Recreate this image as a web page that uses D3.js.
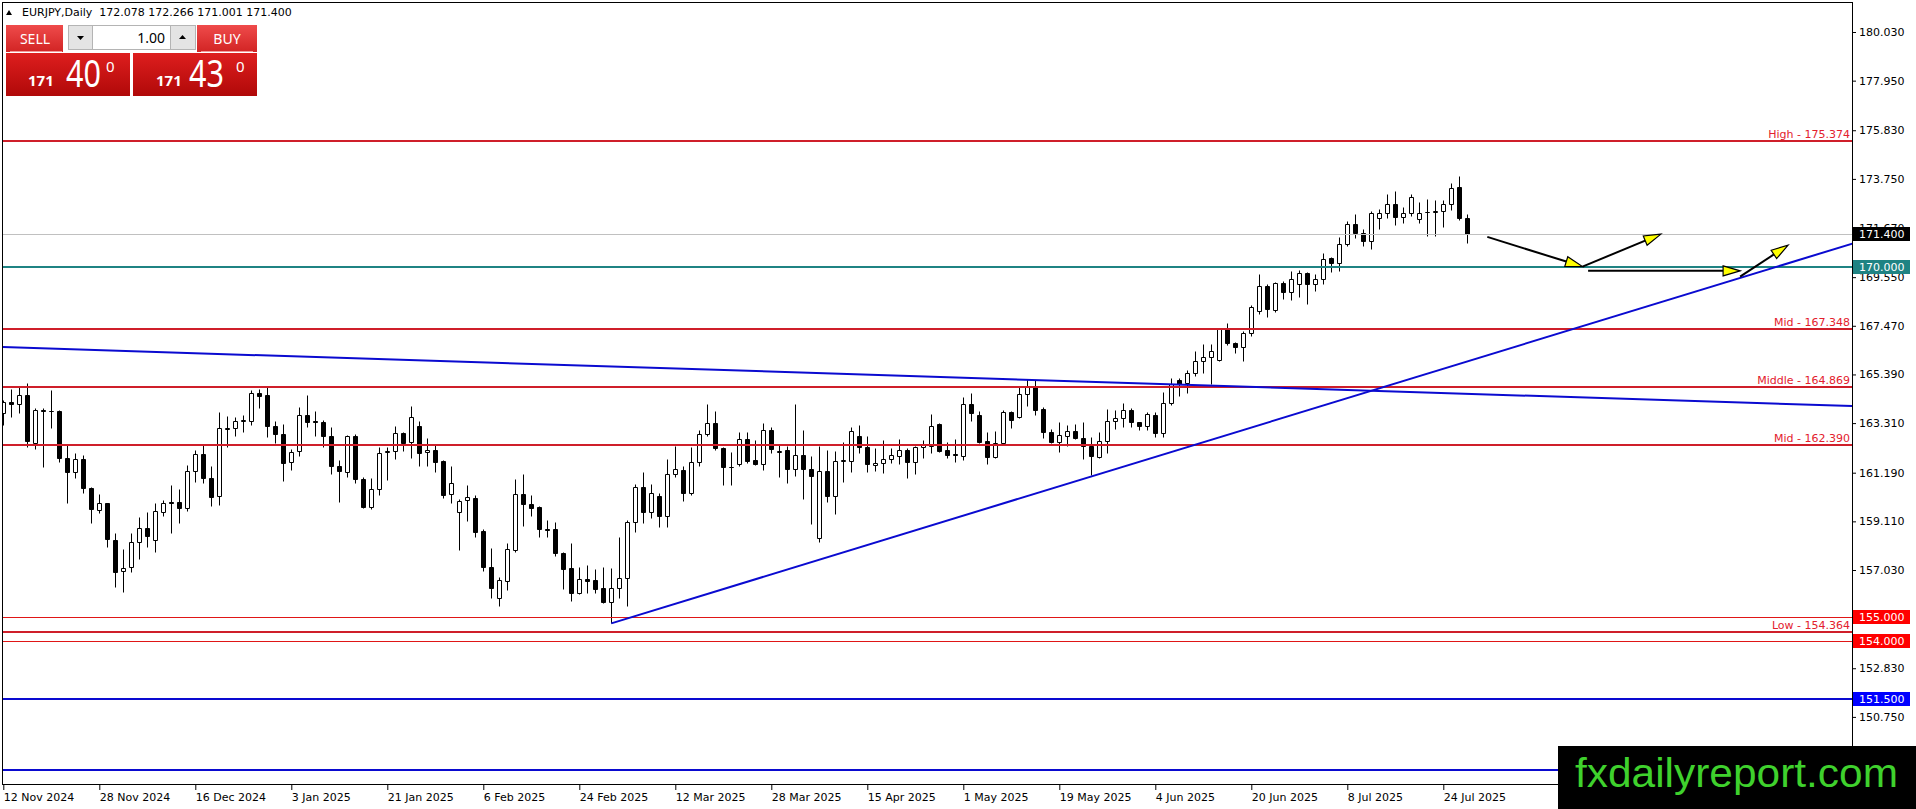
<!DOCTYPE html>
<html>
<head>
<meta charset="utf-8">
<script src="https://cdn.jsdelivr.net/npm/d3@7"></script>
<style>
  body { margin: 0; background: #fff; overflow: hidden; }
  svg { display: block; }
</style>
</head>
<body>
<svg id="chart" width="1916" height="809"></svg>
<script>
// ---- data ----
const symbolTitle = "EURJPY,Daily\u00a0\u00a0172.078 172.266 171.001 171.400";

const dateLabels = ["12 Nov 2024", "28 Nov 2024", "16 Dec 2024", "3 Jan 2025", "21 Jan 2025",
  "6 Feb 2025", "24 Feb 2025", "12 Mar 2025", "28 Mar 2025", "15 Apr 2025", "1 May 2025",
  "19 May 2025", "4 Jun 2025", "20 Jun 2025", "8 Jul 2025", "24 Jul 2025"];

const opens = [
  163.73,164.21,164.11,164.51,162.47,163.87,163.83,163.83,161.80,161.20,161.77,160.52,
  159.59,159.88,158.31,156.99,157.14,158.21,158.81,158.31,159.49,159.92,159.92,159.67,
  161.26,161.97,160.95,160.19,163.07,163.09,163.40,163.40,164.58,164.51,163.20,162.83,
  161.63,162.12,163.64,163.40,163.36,162.77,161.49,161.23,162.77,160.90,159.74,160.48,
  162.07,162.12,162.87,162.49,163.19,162.06,162.16,161.69,160.26,159.52,160.01,160.12,
  158.71,157.17,155.82,156.57,157.88,160.26,159.84,159.74,158.78,158.77,157.77,157.10,
  156.06,156.63,156.60,156.25,155.67,156.25,156.70,159.10,160.56,159.52,160.19,159.35,
  161.12,161.30,160.31,161.66,162.83,163.30,162.23,161.42,161.55,162.64,161.73,161.55,
  163.00,162.06,162.16,161.36,161.95,161.33,158.38,161.25,160.21,161.70,161.70,162.76,
  162.27,161.50,161.59,161.76,161.92,162.16,161.63,162.27,162.34,163.26,162.16,161.99,
  161.92,164.11,163.66,162.54,161.87,162.44,163.77,163.56,164.54,164.89,163.91,162.91,
  162.49,162.77,162.99,162.69,162.34,161.87,162.56,163.41,163.51,163.87,163.34,163.20,
  163.66,162.87,164.18,165.15,165.04,165.44,165.98,166.15,166.01,167.32,166.72,166.55,
  167.15,168.10,169.17,168.15,169.28,168.90,169.26,169.71,169.26,169.46,170.35,170.14,
  170.95,171.81,171.45,171.09,172.06,172.28,172.66,172.11,172.28,172.02,172.32,172.32,
  172.39,172.66,173.39,172.078];
const highs = [
  164.30,164.75,164.87,165.01,163.94,163.94,164.72,163.87,162.37,162.02,161.95,160.59,
  160.26,159.88,158.60,157.91,158.60,159.31,159.52,159.91,160.02,160.66,160.48,161.52,
  162.16,162.37,161.48,163.80,163.61,163.56,163.66,164.72,164.75,164.87,163.40,163.26,
  162.19,164.01,164.51,163.83,163.44,163.13,161.73,162.80,162.83,160.99,160.95,162.30,
  162.27,163.19,162.94,164.04,163.40,162.66,162.37,161.73,161.47,160.05,160.66,160.24,
  158.78,157.96,156.74,158.17,160.92,161.12,160.24,159.76,159.17,159.07,157.80,158.20,
  157.17,157.24,157.06,157.14,157.10,158.45,159.17,160.69,161.20,160.69,160.34,161.76,
  162.33,161.48,162.27,163.02,164.13,163.83,162.27,162.09,162.94,162.94,162.59,163.30,
  163.16,162.37,162.33,164.11,163.01,161.92,162.33,162.16,162.13,162.52,163.16,163.23,
  162.76,162.26,162.59,162.23,162.61,162.23,162.34,162.59,163.70,163.30,162.49,162.63,
  164.44,164.58,163.83,162.91,162.97,163.87,163.83,164.89,165.18,165.15,164.01,163.06,
  163.34,163.23,163.26,163.34,162.70,162.91,163.90,163.87,164.19,163.94,163.37,163.80,
  163.80,164.63,165.22,165.22,165.58,166.39,166.68,166.68,167.36,167.58,166.79,167.26,
  168.36,169.68,169.24,169.36,169.40,169.81,169.86,169.78,169.68,170.57,170.40,171.25,
  171.96,172.25,171.59,172.39,172.45,173.10,173.23,172.56,173.10,172.78,172.88,172.85,
  172.85,173.56,173.87,172.266];
const lows = [
  163.23,163.59,163.76,162.27,162.19,161.45,163.11,161.66,159.88,160.95,160.31,159.02,
  159.45,158.00,156.32,156.10,156.96,157.48,158.03,157.78,159.34,158.60,159.05,159.57,
  160.81,160.73,159.77,159.81,162.27,162.76,162.94,163.23,163.97,162.73,162.44,160.85,
  161.30,161.90,163.13,162.76,162.30,161.13,159.95,161.02,160.73,159.67,159.64,160.24,
  160.88,161.76,162.13,161.83,161.47,161.47,161.23,160.12,159.88,157.88,159.12,158.42,
  156.99,155.82,155.50,156.17,157.78,158.92,159.34,158.42,158.45,157.64,156.22,155.72,
  155.99,156.03,156.03,155.60,154.75,155.85,155.50,158.67,159.05,159.24,158.85,158.88,
  161.02,159.99,160.24,161.49,162.76,162.16,160.66,160.66,161.47,161.59,161.52,161.30,
  162.05,160.99,160.73,161.05,160.05,158.98,158.21,159.95,159.41,160.80,161.23,162.02,
  161.23,161.28,161.19,161.62,161.55,160.95,161.12,161.80,162.05,162.09,161.83,161.66,
  161.73,163.41,162.45,161.55,161.80,162.40,163.11,163.51,164.05,163.65,162.69,162.44,
  162.09,162.34,162.64,161.76,161.09,161.80,162.05,163.04,163.16,163.16,163.02,163.02,
  162.73,162.73,164.08,164.47,164.58,165.32,165.44,164.98,165.96,166.65,166.29,165.98,
  167.05,167.96,167.86,168.07,168.60,168.57,168.69,168.40,168.97,169.26,169.78,169.81,
  170.90,171.21,170.88,170.75,171.61,172.06,171.78,171.88,172.18,171.88,171.31,171.31,
  171.71,172.42,172.00,171.001];
const closes = [
  164.23,164.13,164.51,162.56,163.87,163.81,163.84,161.80,161.20,161.77,160.52,159.62,
  159.88,158.34,156.96,157.13,158.21,158.81,158.50,159.55,159.88,159.88,159.67,161.28,
  161.97,160.95,160.16,163.09,163.10,163.41,163.43,164.58,164.48,163.20,162.83,161.62,
  162.09,163.64,163.37,163.34,162.77,161.49,161.26,162.77,160.90,159.74,160.48,162.05,
  162.13,162.87,162.47,163.58,162.05,162.16,161.66,160.24,160.73,159.99,160.13,158.67,
  157.17,156.27,156.60,157.91,160.26,159.84,159.69,158.77,158.75,157.77,157.09,156.06,
  156.63,156.57,156.23,155.67,156.25,156.70,159.10,160.56,159.52,160.31,159.35,161.12,
  161.35,160.31,161.63,162.83,163.30,162.23,161.42,161.43,162.64,161.70,161.55,163.00,
  162.19,162.13,161.36,161.93,161.33,161.06,161.25,160.21,161.70,161.75,162.97,162.27,
  161.55,161.60,161.76,161.94,162.16,161.63,162.27,162.37,163.18,162.13,161.96,161.93,
  164.11,163.73,162.49,161.87,162.44,163.77,163.44,164.54,164.89,163.87,162.91,162.50,
  162.79,162.99,162.69,162.34,161.92,162.56,163.41,163.51,163.87,163.37,163.20,163.68,
  162.87,164.18,164.98,164.98,165.44,165.98,166.15,166.41,167.32,166.72,166.55,167.15,
  168.26,169.17,168.17,169.28,168.90,169.47,169.71,169.26,169.46,170.33,170.14,170.95,
  171.81,171.45,171.09,172.28,172.28,172.66,172.11,172.28,172.96,172.28,172.33,172.39,
  172.66,173.35,172.06,171.400];

// price axis ticks (the ones that are not hidden behind tags / watermark)
const priceTicks = [180.03, 177.95, 175.83, 173.75, 171.67, 169.55, 167.47, 165.39, 163.31,
  161.19, 159.11, 157.03, 152.83, 150.75];

// named levels (value + caption)
const levelValues = [175.374, 167.348, 164.869, 162.390, 154.364];
const levelNames = ["High", "Mid", "Middle", "Mid", "Low"];

// plain horizontal lines and the tags they carry on the price axis
const bidPrice = 171.400;
const pivotPrice = 170.000;
const redLinePrices = [155.000, 154.000];
const blueLinePrices = [151.500, 148.500];

// trend lines, anchors as [bar index, price]
const downTrend = [[0, 166.56], [230, 164.05]];
const upTrend = [[76, 154.75], [231, 170.97]];

// projection arrows, [bar index, price] from -> to
const arrowFrom = [[185.5, 171.27], [197.4, 170.00], [198.1, 169.82], [217.1, 169.57]];
const arrowTo   = [[197.4, 170.00], [207.2, 171.39], [217.1, 169.82], [223.1, 170.92]];

// ---- drawing ----
const svg = d3.select("#chart");
const axisFont = "DejaVu Sans, Verdana, sans-serif";
const lineRed = "#cf1f2a";
const textRed = "#e3202d";
const blue = "#0a0ad0";

const plotRight = 1852, plotBottom = 785;

const x = d3.scaleLinear().domain([0, 231]).range([3.3, 1851.3]);
const y = d3.scaleLinear().domain([157.03, 180.03]).range([570, 32]);
const px = i => Math.round(x(i)) + 0.5;
const py = v => Math.round(y(v)) + 0.5;

const defs = svg.append("defs");
defs.append("clipPath").attr("id", "plotClip")
  .append("rect").attr("x", 3).attr("y", 3).attr("width", plotRight - 3).attr("height", plotBottom - 3);

function grad(id, c1, c2) {
  const g = defs.append("linearGradient").attr("id", id).attr("x1", 0).attr("y1", 0).attr("x2", 0).attr("y2", 1);
  g.append("stop").attr("offset", "0%").attr("stop-color", c1);
  g.append("stop").attr("offset", "100%").attr("stop-color", c2);
}
grad("gTop", "#ef4b4b", "#d22424");
grad("gBot", "#de1e1e", "#b00909");

// frame
svg.append("rect")
  .attr("x", 2.5).attr("y", 2.5)
  .attr("width", plotRight - 2).attr("height", plotBottom - 3)
  .attr("fill", "none").attr("stroke", "#000");

const plot = svg.append("g").attr("clip-path", "url(#plotClip)");

// candles
const bars = opens.map((o, i) => ({ i, o, h: highs[i], l: lows[i], c: closes[i] }));
plot.append("g").selectAll("line")
  .data(bars)
  .join("line")
  .attr("x1", d => px(d.i)).attr("x2", d => px(d.i))
  .attr("y1", d => py(d.h)).attr("y2", d => py(d.l))
  .attr("stroke", "#000");
plot.append("g").selectAll("path")
  .data(bars)
  .join("path")
  .attr("d", d => {
    const cx = px(d.i), top = py(Math.max(d.o, d.c)), bot = py(Math.min(d.o, d.c));
    return `M${cx - 2},${top}H${cx + 2}V${bot}H${cx - 2}Z`;
  })
  .attr("fill", d => d.c >= d.o ? "#fff" : "#000")
  .attr("stroke", "#000");

// horizontal lines
function hLine(v, color, width) {
  const yy = width % 2 ? py(v) : Math.round(y(v));
  plot.append("line")
    .attr("x1", 0).attr("x2", plotRight)
    .attr("y1", yy).attr("y2", yy)
    .attr("stroke", color).attr("stroke-width", width);
}
hLine(bidPrice, "#c0c0c0", 1);
hLine(pivotPrice, "#1f8383", 2);
redLinePrices.forEach(v => hLine(v, "#e01616", 1));
blueLinePrices.forEach(v => hLine(v, blue, 2));
levelValues.forEach(v => hLine(v, lineRed, 2));

// level captions
svg.append("g").selectAll("text")
  .data(levelValues)
  .join("text")
  .attr("x", plotRight - 2)
  .attr("y", d => Math.round(y(d)) - 3)
  .attr("text-anchor", "end")
  .attr("font-family", axisFont).attr("font-size", 11)
  .attr("fill", textRed)
  .text((d, i) => `${levelNames[i]} - ${d.toFixed(3)}`);

// trend lines
function trend(anchors, fromIdx, toIdx) {
  const [[i0, p0], [i1, p1]] = anchors;
  const at = i => p0 + (p1 - p0) * (i - i0) / (i1 - i0);
  plot.append("line")
    .attr("x1", x(fromIdx)).attr("y1", y(at(fromIdx)))
    .attr("x2", x(toIdx)).attr("y2", y(at(toIdx)))
    .attr("stroke", blue).attr("stroke-width", 2);
}
trend(downTrend, -2, 233);
trend(upTrend, upTrend[0][0], 233);

// arrows
const arrows = arrowFrom.map((f, k) => ({ f, t: arrowTo[k] }));
const ag = plot.append("g");
arrows.forEach(a => {
  const x1 = x(a.f[0]), y1 = y(a.f[1]), x2 = x(a.t[0]), y2 = y(a.t[1]);
  const ang = Math.atan2(y2 - y1, x2 - x1);
  const len = 17, half = 5;
  const bx = x2 - len * Math.cos(ang), by = y2 - len * Math.sin(ang);
  ag.append("line")
    .attr("x1", x1).attr("y1", y1).attr("x2", bx).attr("y2", by)
    .attr("stroke", "#000").attr("stroke-width", 2);
  const nx = -Math.sin(ang) * half, ny = Math.cos(ang) * half;
  ag.append("path")
    .attr("d", `M${x2},${y2}L${bx + nx},${by + ny}L${bx - nx},${by - ny}Z`)
    .attr("fill", "#ffff00").attr("stroke", "#000").attr("stroke-width", 1.2);
});

// price axis
const yAxis = svg.append("g")
  .attr("transform", `translate(${plotRight},0)`)
  .call(d3.axisRight(y).tickValues(priceTicks).tickFormat(d3.format(".3f")).tickSize(4).tickPadding(3));
yAxis.select(".domain").remove();
yAxis.selectAll("text").attr("font-family", axisFont).attr("font-size", 11).attr("fill", "#000");
yAxis.selectAll("line").attr("stroke", "#000");

// time axis
const xAxis = svg.append("g")
  .attr("transform", `translate(0,${plotBottom})`)
  .call(d3.axisBottom(x).tickValues(d3.range(0, dateLabels.length * 12, 12))
    .tickFormat((d, i) => dateLabels[i]).tickSize(5).tickPadding(3));
xAxis.select(".domain").remove();
xAxis.selectAll("text").attr("font-family", axisFont).attr("font-size", 11).attr("fill", "#000")
  .attr("text-anchor", "start").attr("x", 0);
xAxis.selectAll("line").attr("stroke", "#000");

// price tags on the axis
const tags = [
  { v: bidPrice, bg: "#000" },
  { v: pivotPrice, bg: "#1f8383" },
  { v: redLinePrices[0], bg: "#f00" },
  { v: redLinePrices[1], bg: "#f00" },
  { v: blueLinePrices[0], bg: "#0000ff" }
];
const tg = svg.append("g").selectAll("g").data(tags).join("g")
  .attr("transform", d => `translate(${plotRight + 1},${Math.round(y(d.v)) - 7})`);
tg.append("rect").attr("width", 57).attr("height", 14).attr("fill", d => d.bg);
tg.append("text")
  .attr("x", 6).attr("y", 11)
  .attr("font-family", axisFont).attr("font-size", 11).attr("fill", "#fff")
  .text(d => d.v.toFixed(3));

// title
svg.append("path").attr("d", "M6,15L9,10L12,15Z").attr("fill", "#000");
svg.append("text")
  .attr("x", 22).attr("y", 16)
  .attr("font-family", axisFont).attr("font-size", 11).attr("fill", "#000")
  .text(symbolTitle);

// one-click trading panel
const ui = svg.append("g").attr("font-family", "Noto Sans, Open Sans, sans-serif");
ui.append("rect").attr("x", 6).attr("y", 25).attr("width", 57).attr("height", 27).attr("fill", "url(#gTop)");
ui.append("rect").attr("x", 197).attr("y", 25).attr("width", 60).attr("height", 27).attr("fill", "url(#gTop)");
ui.append("line").attr("x1", 10).attr("x2", 62).attr("y1", 51.5).attr("y2", 51.5).attr("stroke", "#f29a9a");
ui.append("line").attr("x1", 201).attr("x2", 253).attr("y1", 51.5).attr("y2", 51.5).attr("stroke", "#f29a9a");
ui.append("text").attr("x", 35).attr("y", 44).attr("text-anchor", "middle")
  .attr("font-size", 14).attr("fill", "#fff").text("SELL");
ui.append("text").attr("x", 227).attr("y", 44).attr("text-anchor", "middle")
  .attr("font-size", 14).attr("fill", "#fff").text("BUY");
ui.append("rect").attr("x", 68.5).attr("y", 25.5).attr("width", 24).attr("height", 24)
  .attr("fill", "#e4e4e4").attr("stroke", "#b4b4b4");
ui.append("rect").attr("x", 92.5).attr("y", 25.5).attr("width", 78).attr("height", 24)
  .attr("fill", "#fff").attr("stroke", "#b4b4b4");
ui.append("rect").attr("x", 170.5).attr("y", 25.5).attr("width", 25).attr("height", 24)
  .attr("fill", "#e4e4e4").attr("stroke", "#b4b4b4");
ui.append("path").attr("d", "M77,36H84L80.5,40Z").attr("fill", "#000");
ui.append("path").attr("d", "M179,39H186L182.5,35Z").attr("fill", "#000");
ui.append("text").attr("x", 165).attr("y", 43).attr("text-anchor", "end")
  .attr("font-size", 14).attr("fill", "#000").text("1.00");

ui.append("rect").attr("x", 6).attr("y", 53).attr("width", 124).attr("height", 43).attr("fill", "url(#gBot)");
ui.append("rect").attr("x", 133).attr("y", 53).attr("width", 124).attr("height", 43).attr("fill", "url(#gBot)");
[[28, "171", 66, "40", 106], [156, "171", 189, "43", 236]].forEach(([sx, small, bx, big, ex]) => {
  ui.append("text").attr("x", sx).attr("y", 86).attr("font-size", 15).attr("font-weight", "bold")
    .attr("fill", "#fff").text(small);
  ui.append("text").attr("x", bx).attr("y", 87).attr("font-size", 38).attr("fill", "#fff")
    .attr("textLength", 35).attr("lengthAdjust", "spacingAndGlyphs").text(big);
  ui.append("text").attr("x", ex).attr("y", 72).attr("font-size", 15).attr("fill", "#fff").text("0");
});

// watermark
svg.append("rect").attr("x", 1558).attr("y", 746).attr("width", 358).attr("height", 63).attr("fill", "#000");
svg.append("text")
  .attr("x", 1575).attr("y", 787)
  .attr("font-family", "Liberation Sans, Arial, sans-serif").attr("font-size", 40)
  .attr("textLength", 323).attr("lengthAdjust", "spacingAndGlyphs")
  .attr("fill", "#3fd12d")
  .text("fxdailyreport.com");
</script>
</body>
</html>
